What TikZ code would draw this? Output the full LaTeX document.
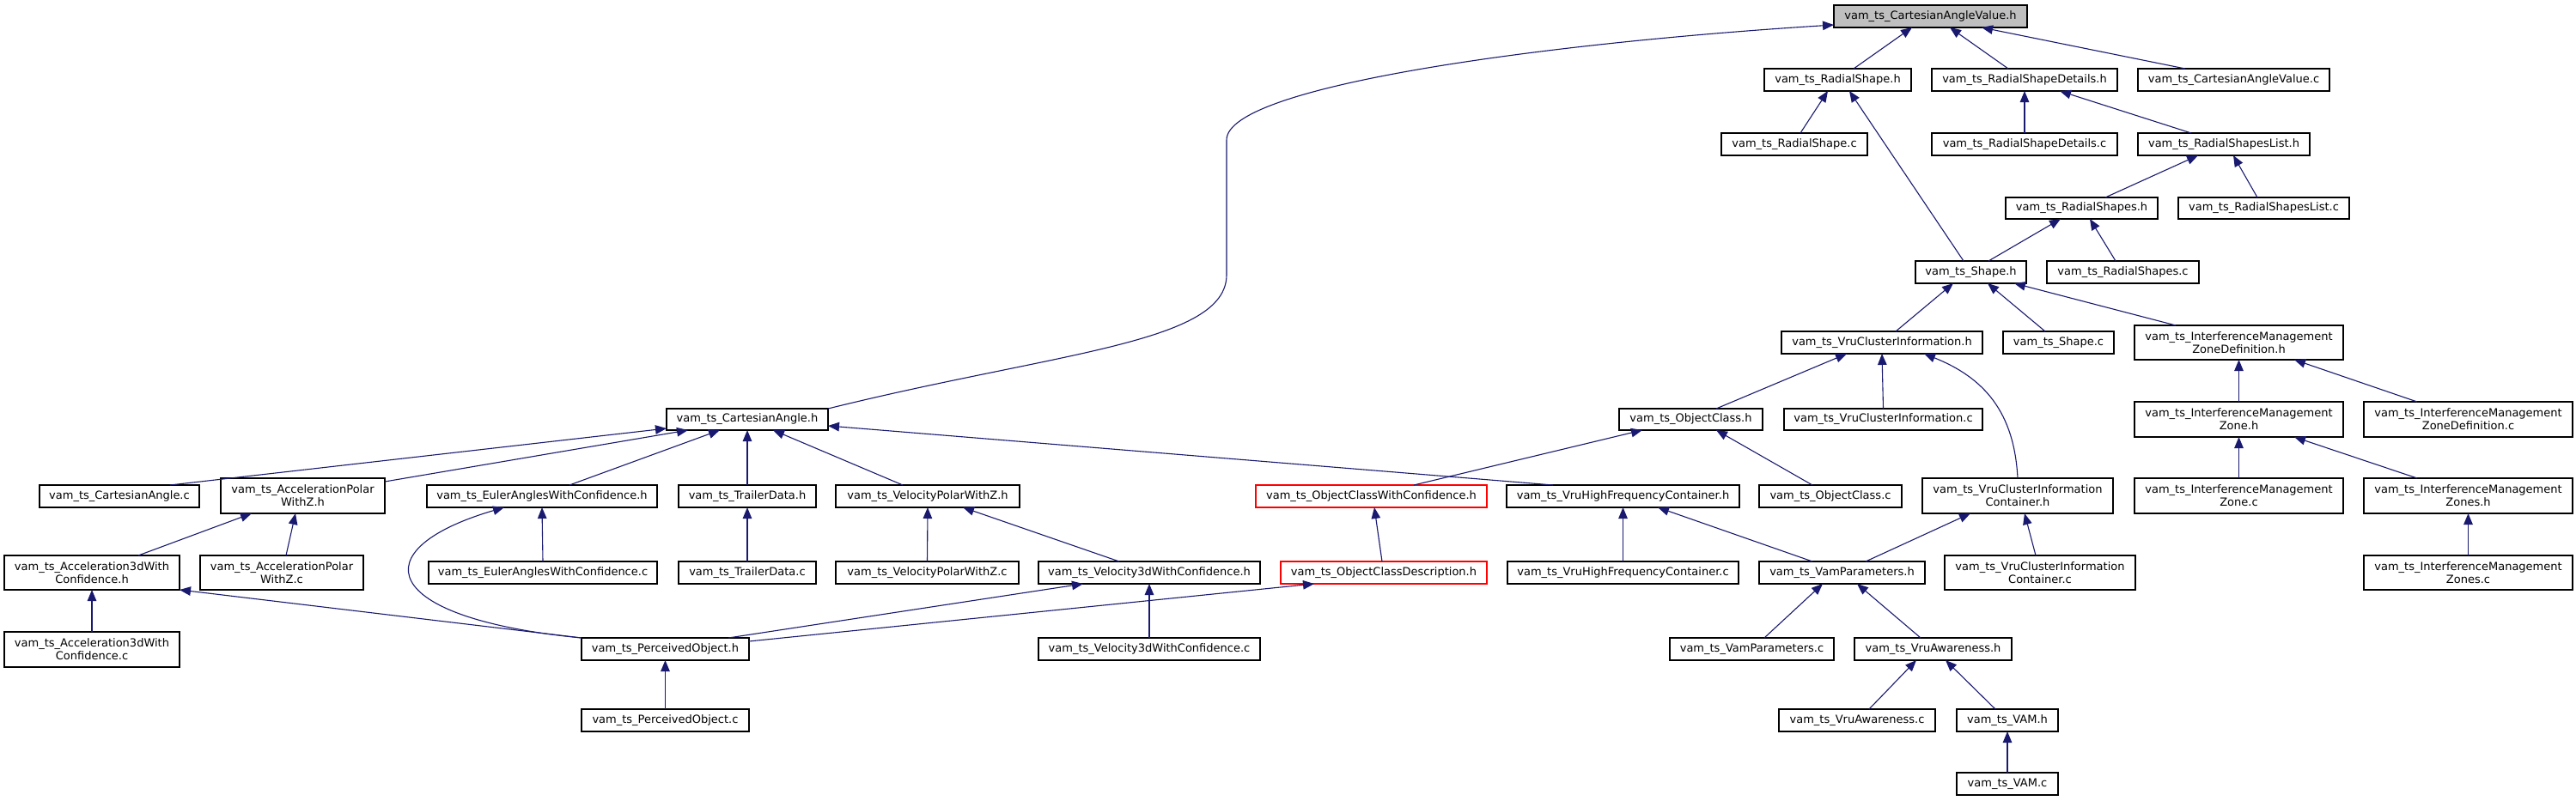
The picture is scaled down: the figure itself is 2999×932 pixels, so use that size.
\documentclass[tikz,border=0pt]{standalone}
\usepackage{fontspec}
\setmainfont{DejaVu Sans}
\usetikzlibrary{arrows.meta}
\definecolor{navyedge}{HTML}{191970}
\definecolor{focusgray}{HTML}{BFBFBF}
\newcommand\vt{vam\_ts\_}
\newcommand\gnode[7][]{\node[gbox,#1,minimum width={#5-#3},minimum height={#6-#4}] (#2) at ({(#3+#5)/2},{(#4+#6)/2}) {#7};}
\newcommand\ed[4]{\draw[edge] ([xshift=#2pt]#1.north) -- ([xshift=#4pt]#3.south);}
\begin{document}
\begin{tikzpicture}[x=1pt,y=-1pt,
  gbox/.style={draw=black,line width=1.1pt,fill=white,inner sep=0pt,outer sep=0pt,align=center,font=\fontsize{13}{15}\selectfont},
  redbox/.style={draw=red},
  focus/.style={fill=focusgray},
  edge/.style={draw=navyedge,line width=1.1pt,-{Triangle[length=13pt,width=10.5pt]}}]
\fill[white] (0,0) rectangle (2999,932);
\useasboundingbox (0,0) rectangle (2999,932);
% nodes
\gnode[focus]{cav}{2135}{6}{2360}{32}{\vt CartesianAngleValue.h}
\gnode{rsh}{2054}{80}{2225}{106}{\vt RadialShape.h}
\gnode{rsdh}{2249}{80}{2465}{106}{\vt RadialShapeDetails.h}
\gnode{cavc}{2489}{80}{2712}{106}{\vt CartesianAngleValue.c}
\gnode{rsc}{2004}{155}{2174}{181}{\vt RadialShape.c}
\gnode{rsdc}{2249}{155}{2465}{181}{\vt RadialShapeDetails.c}
\gnode{rslh}{2489}{155}{2689}{181}{\vt RadialShapesList.h}
\gnode{rssh}{2335}{230}{2512}{255}{\vt RadialShapes.h}
\gnode{rslc}{2536}{230}{2735}{255}{\vt RadialShapesList.c}
\gnode{shh}{2230}{304}{2359}{330}{\vt Shape.h}
\gnode{rssc}{2383}{304}{2560}{330}{\vt RadialShapes.c}
\gnode{vcih}{2074}{386}{2308}{412}{\vt VruClusterInformation.h}
\gnode{shc}{2332}{386}{2461}{412}{\vt Shape.c}
\gnode{imzdh}{2485}{379}{2728}{419}{\vt InterferenceManagement\\ZoneDefinition.h}
\gnode{cah}{776}{476}{964}{501}{\vt CartesianAngle.h}
\gnode{och}{1885}{476}{2052}{501}{\vt ObjectClass.h}
\gnode{vcic}{2077}{476}{2308}{501}{\vt VruClusterInformation.c}
\gnode{imzh}{2485}{468}{2728}{509}{\vt InterferenceManagement\\Zone.h}
\gnode{imzdc}{2752}{468}{2995}{509}{\vt InterferenceManagement\\ZoneDefinition.c}
\gnode{cac}{46}{565}{232}{591}{\vt CartesianAngle.c}
\gnode{apwzh}{257}{557}{448}{598}{\vt AccelerationPolar\\WithZ.h}
\gnode{eawch}{497}{565}{765}{591}{\vt EulerAnglesWithConfidence.h}
\gnode{tdh}{790}{565}{950}{591}{\vt TrailerData.h}
\gnode{vpwzh}{973}{565}{1187}{591}{\vt VelocityPolarWithZ.h}
\gnode[redbox]{ocwch}{1462}{565}{1731}{591}{\vt ObjectClassWithConfidence.h}
\gnode{vhfch}{1754}{565}{2025}{591}{\vt VruHighFrequencyContainer.h}
\gnode{occ}{2048}{565}{2214}{591}{\vt ObjectClass.c}
\gnode{vccih}{2238}{557}{2460}{598}{\vt VruClusterInformation\\Container.h}
\gnode{imzc}{2485}{557}{2728}{598}{\vt InterferenceManagement\\Zone.c}
\gnode{imzsh}{2752}{557}{2995}{598}{\vt InterferenceManagement\\Zones.h}
\gnode{a3dh}{5}{647}{209}{687}{\vt Acceleration3dWith\\Confidence.h}
\gnode{apwzc}{233}{647}{423}{687}{\vt AccelerationPolar\\WithZ.c}
\gnode{eawcc}{499}{654}{765}{680}{\vt EulerAnglesWithConfidence.c}
\gnode{tdc}{790}{654}{950}{680}{\vt TrailerData.c}
\gnode{vpwzc}{973}{654}{1186}{680}{\vt VelocityPolarWithZ.c}
\gnode{v3dh}{1209}{654}{1467}{680}{\vt Velocity3dWithConfidence.h}
\gnode[redbox]{ocdh}{1491}{654}{1731}{680}{\vt ObjectClassDescription.h}
\gnode{vhfcc}{1755}{654}{2024}{680}{\vt VruHighFrequencyContainer.c}
\gnode{vph}{2048}{654}{2241}{680}{\vt VamParameters.h}
\gnode{vccic}{2264}{647}{2486}{687}{\vt VruClusterInformation\\Container.c}
\gnode{imzsc}{2752}{647}{2995}{687}{\vt InterferenceManagement\\Zones.c}
\gnode{a3dc}{5}{736}{209}{777}{\vt Acceleration3dWith\\Confidence.c}
\gnode{poh}{677}{743}{872}{769}{\vt PerceivedObject.h}
\gnode{v3dc}{1209}{743}{1467}{769}{\vt Velocity3dWithConfidence.c}
\gnode{vpc}{1944}{743}{2135}{769}{\vt VamParameters.c}
\gnode{vah}{2159}{743}{2342}{769}{\vt VruAwareness.h}
\gnode{poc}{677}{826}{872}{852}{\vt PerceivedObject.c}
\gnode{vac}{2071}{826}{2253}{852}{\vt VruAwareness.c}
\gnode{vamh}{2278}{826}{2396}{852}{\vt VAM.h}
\gnode{vamc}{2278}{900}{2396}{926}{\vt VAM.c}
% edges
\draw[edge] (cah.north east) .. controls (1230,410) and (1428,400) .. (1428,320) -- (1428,163) .. controls (1428,100) and (1800,50) .. ([yshift=-10pt]cav.west);
\ed{rsh}{18.5}{cav}{-21.5}
\ed{rsdh}{-19}{cav}{22.5}
\ed{cavc}{-56.5}{cav}{59.5}
\ed{rsc}{7}{rsh}{-11.5}
\ed{shh}{-8.5}{rsh}{13.5}
\ed{rsdc}{0}{rsdh}{0}
\ed{rslh}{-38}{rsdh}{41}
\ed{rssh}{27.5}{rslh}{-30}
\ed{rslc}{-7.5}{rslh}{11}
\ed{shh}{20.5}{rssh}{-24.5}
\ed{rssc}{-8.5}{rssh}{9.5}
\ed{vcih}{16}{shh}{-20.5}
\ed{shc}{-15.5}{shh}{19.5}
\ed{imzdh}{-73.5}{shh}{50.5}
\ed{och}{29.5}{vcih}{-41}
\ed{vcic}{0}{vcih}{0}
\draw[edge] (vccih.north) .. controls (2345,480) and (2310,440) .. ([xshift=49pt]vcih.south);
\ed{imzh}{0}{imzdh}{0}
\ed{imzdc}{-59.5}{imzdh}{64.5}
\ed{imzc}{0}{imzh}{0}
\ed{imzsh}{-59.5}{imzh}{64.5}
\ed{imzsc}{0}{imzsh}{0}
\ed{ocwch}{49.5}{och}{-56.5}
\ed{occ}{-21}{och}{29.5}
\ed{vph}{27.5}{vccih}{-55}
\ed{vccic}{-5}{vccih}{8}
\ed{vhfcc}{0}{vhfch}{0}
\ed{vph}{-34.5}{vhfch}{40.5}
\draw[edge] ([xshift=-81.5pt]vhfch.north) -- ([yshift=-7.5pt]cah.east);
\draw[edge] ([xshift=59pt]cac.north) -- ([yshift=-10.5pt]cah.west);
\draw[edge] ([yshift=-4pt]apwzh.north east) -- ([xshift=-69pt]cah.south);
\ed{eawch}{32}{cah}{-32}
\ed{tdh}{0}{cah}{0}
\ed{vpwzh}{-29}{cah}{30}
\ed{a3dh}{54}{apwzh}{-59.5}
\ed{apwzc}{5}{apwzh}{-8.5}
\ed{eawcc}{0}{eawch}{0}
\draw[edge] (poh.north west) .. controls (440,720) and (420,640) .. ([xshift=-44pt]eawch.south);
\ed{tdc}{0}{tdh}{0}
\ed{vpwzc}{0}{vpwzh}{0}
\ed{v3dh}{-35}{vpwzh}{41}
\ed{a3dc}{0}{a3dh}{0}
\draw[edge] (poh.north west) -- (a3dh.south east);
\ed{poh}{73.5}{v3dh}{-77}
\ed{v3dc}{0}{v3dh}{0}
\draw[edge] ([yshift=9pt]poh.east) -- ([xshift=-81pt]ocdh.south);
\ed{ocdh}{-2}{ocwch}{3.5}
\ed{poc}{0}{poh}{0}
\ed{vpc}{14.5}{vph}{-22.5}
\ed{vah}{-14.5}{vph}{17.5}
\ed{vac}{14}{vah}{-19.5}
\ed{vamh}{-14}{vah}{14.5}
\ed{vamc}{0}{vamh}{0}
\end{tikzpicture}
\end{document}
